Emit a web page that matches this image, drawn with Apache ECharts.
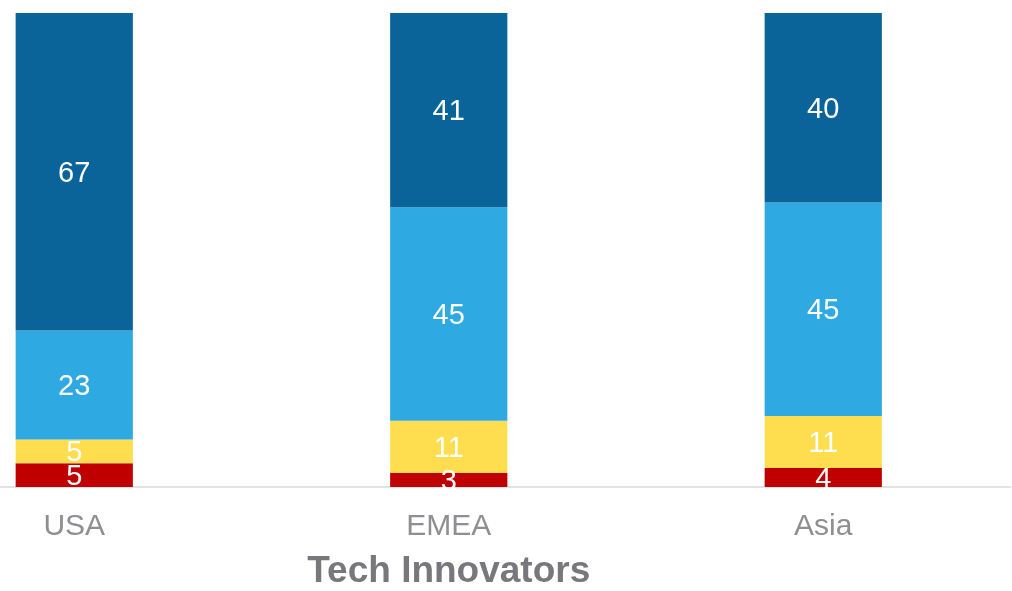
<!DOCTYPE html>
<html lang="en">
  <head>
    <meta charset="UTF-8" />
    <title>Tech Innovators</title>
    <script src="https://cdn.jsdelivr.net/npm/echarts@6.0.0/dist/echarts.min.js"></script>
    <style>
      html, body { margin: 0; padding: 0; background: #fff; overflow: hidden; }
      /* the first category band starts left of the page edge, so the chart box is shifted left */
      #chart { width: 1125px; height: 591px; margin-left: -113px; }
    </style>
  </head>
  <body>
    <div id="chart"></div>
    <script>
      // categories and stacked shares (bottom -> top)
      var regions = ['USA', 'EMEA', 'Asia']
      var redVals = [5, 3, 4]
      var yellowVals = [5, 11, 11]
      var lightBlueVals = [23, 45, 45]
      var darkBlueVals = [67, 41, 40]

      var colors = ['#c00000', '#fedd4f', '#2ea9e1', '#0b6499']
      var seriesData = [redVals, yellowVals, lightBlueVals, darkBlueVals]

      var chart = echarts.init(document.getElementById('chart'))

      var series = seriesData.map(function (vals, i) {
        return {
          type: 'bar',
          stack: 'total',
          data: vals,
          barWidth: '31.3%',
          itemStyle: { color: colors[i] },
          label: {
            show: true,
            position: 'inside',
            offset: [0, 2],
            color: '#fff',
            fontSize: 29,
            fontFamily: 'Liberation Sans'
          }
        }
      })

      chart.setOption({
        animation: false,
        grid: { left: 0, right: 1.5, top: 13, bottom: 104, outerBoundsMode: 'none', containLabel: false },
        xAxis: {
          type: 'category',
          data: regions,
          name: 'Tech Innovators',
          nameLocation: 'middle',
          nameGap: 66,
          nameTextStyle: {
            color: '#77777c',
            fontSize: 37,
            fontWeight: 'bold',
            fontFamily: 'Liberation Sans'
          },
          axisLine: { lineStyle: { color: '#e3e3e3', width: 2 } },
          axisTick: { show: false },
          axisLabel: {
            color: '#8e8e93',
            fontSize: 30,
            margin: 25,
            fontFamily: 'Liberation Sans'
          }
        },
        yAxis: { type: 'value', min: 0, max: 100, show: false },
        // white strip under the axis so labels look clipped at the baseline
        graphic: [{
          type: 'rect',
          z: 100,
          shape: { x: 0, y: 489, width: 1125, height: 14 },
          style: { fill: '#fff' }
        }],
        series: series
      })
    </script>
  </body>
</html>
